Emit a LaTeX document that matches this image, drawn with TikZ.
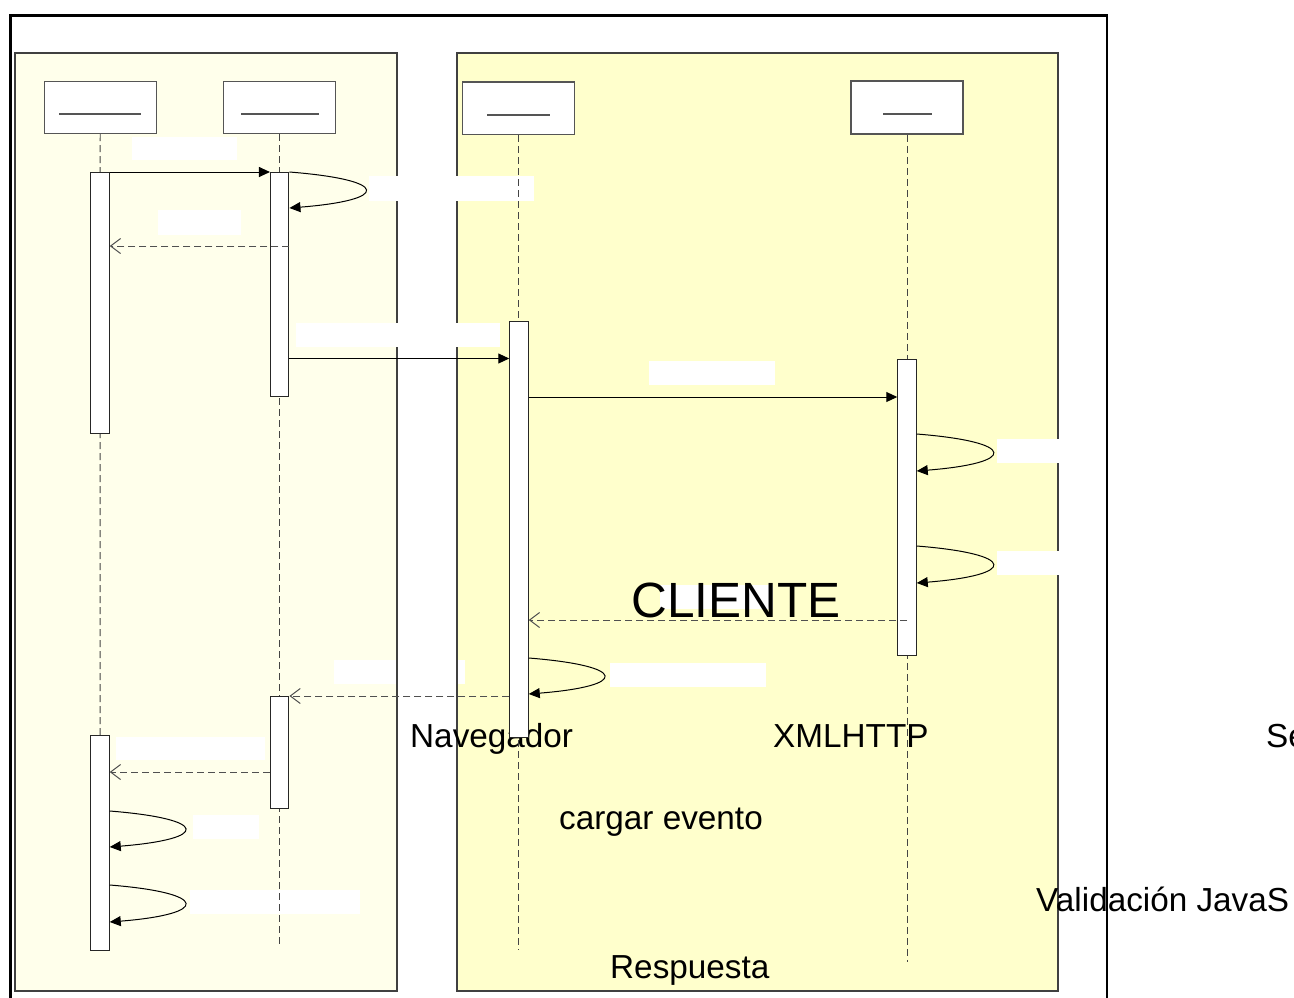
\documentclass[tikz,border=0pt]{standalone}
\usepackage{fontspec}
\setmainfont{Liberation Sans}
\usetikzlibrary{arrows.meta}
\definecolor{leftfill}{HTML}{FFFFEB}
\definecolor{rightfill}{HTML}{FFFFCC}
\definecolor{panelgray}{HTML}{404040}
\definecolor{boxgray}{HTML}{555555}
\definecolor{lifegray}{HTML}{444444}
\definecolor{retgray}{HTML}{505050}
\tikzset{
  lbox/.style={draw=boxgray, line width=1.3pt, fill=white, minimum width=112pt, minimum height=52pt, inner sep=0pt},
  actbar/.style={draw=black!85, line width=1pt, fill=white, minimum width=18.5pt, inner sep=0pt},
  lbl/.style={fill=white, inner sep=0pt, outer sep=0pt},
  life/.style={draw=lifegray, line width=0.9pt, dash pattern=on 7pt off 4pt},
  msg/.style={line width=1pt, -{Triangle[length=11pt,width=10pt]}},
  ret/.style={draw=retgray, line width=1pt, dash pattern=on 7pt off 4pt, -{Straight Barb[length=10pt,width=15pt]}},
  txt/.style={font=\fontsize{33.3}{36}\selectfont, anchor=base west, inner sep=0pt},
  panel/.style={draw=panelgray, line width=2pt},
  uline/.style={draw=boxgray, line width=1.3pt}
}
\begin{document}
\begin{tikzpicture}[x=1pt,y=-1pt]
\useasboundingbox (0,0) rectangle (1294,997);
\clip (0,0) rectangle (1294,997);
\fill[white] (0,0) rectangle (1294,997);
% panels fill
\fill[leftfill] (15,53) rectangle (397,991);
\fill[rightfill] (457,53) rectangle (1058,991);
% label under borders
\node[lbl, minimum width=131pt, minimum height=24pt] (l10) at (399.5,672) {};
% panel borders
\draw[panel] (15,53) rectangle (397,991);
\draw[panel] (457,53) rectangle (1058,991);
% label rectangles
\node[lbl, minimum width=105pt, minimum height=23pt] (l1) at (184.5,148.5) {};
\node[lbl, minimum width=165pt, minimum height=25pt] (l2) at (451.5,188.5) {};
\node[lbl, minimum width=83pt, minimum height=25pt] (l3) at (199.5,222.5) {};
\node[lbl, minimum width=204pt, minimum height=24pt] (l4) at (398,335) {};
\node[lbl, minimum width=126pt, minimum height=24pt] (l5) at (712,373) {};
\node[lbl, minimum width=62pt, minimum height=24pt] (l6) at (1028,451) {};
\node[lbl, minimum width=62pt, minimum height=24pt] (l7) at (1028,563) {};
\node[lbl, minimum width=113pt, minimum height=24pt] (l8) at (716.5,597) {};
\node[lbl, minimum width=156pt, minimum height=24pt] (l9) at (688,675) {};
\node[lbl, minimum width=149pt, minimum height=23pt] (l11) at (190.5,748.5) {};
\node[lbl, minimum width=66pt, minimum height=24pt] (l12) at (226,827) {};
\node[lbl, minimum width=170pt, minimum height=24pt] (l13) at (275,902) {};
% texts
\node[font=\fontsize{49.5}{52}\selectfont, anchor=base, inner sep=0pt] (tcli) at (736,617) {CLIENTE};
\node[txt] (tnav) at (410,747) {Navegador};
\node[txt] (txml) at (773,747) {XMLHTTP};
\node[txt] (tse) at (1266,747) {Se};
\node[txt] (tcar) at (559,829) {cargar evento};
\node[txt] (tval) at (1036,911) {Validación JavaS};
\node[txt] (tres) at (610,978) {Respuesta};
% outer frame
\draw[line width=2.5pt] (10.7,15.3) rectangle (1107,1030);
% lifeline heads
\node[lbox] (b1) at (100.2,107.5) {};
\node[lbox] (b2) at (279.5,107.5) {};
\node[lbox, minimum height=52.5pt] (b3) at (518.5,108.3) {};
\node[lbox, minimum height=53pt] (b4) at (907,107.6) {};
\draw[uline] (59,114) -- (141,114);
\draw[uline] (241,114) -- (319,114);
\draw[uline] (487,115) -- (550,115);
\draw[uline] (883,114) -- (932,114);
% lifelines
\coordinate (e1) at (100,950);
\coordinate (e2) at (279.5,944);
\coordinate (e3) at (518.5,950);
\coordinate (e4) at (907,962);
\draw[life] (b1.south) -- (e1);
\draw[life] (b2.south) -- (e2);
\draw[life] (b3.south) -- (e3);
\draw[life] (b4.south) -- (e4);
% activation bars
\node[actbar, minimum height=261pt] (a1) at (100,302.5) {};
\node[actbar, minimum height=224pt] (a2) at (279.7,284) {};
\node[actbar, minimum height=416pt] (a3) at (519,529.5) {};
\node[actbar, minimum height=296pt] (a4) at (907,507.5) {};
\node[actbar, minimum height=112pt] (a5) at (279.7,752) {};
\node[actbar, minimum height=215pt] (a6) at (100,842.5) {};
% messages
\draw[msg] (a1.east |- 0,172) -- (a2.west |- 0,172);
\draw[msg] (a2.east |- 0,172) .. controls +(101,8) and +(101,-8) .. (a2.east |- 0,208);
\draw[ret] (a2.east |- 0,246) -- (a1.east |- 0,246);
\draw[msg] (a2.east |- 0,358.5) -- (a3.west |- 0,358.5);
\draw[msg] (a3.east |- 0,397) -- (a4.west |- 0,397);
\draw[msg] (a4.east |- 0,434) .. controls +(101,8) and +(101,-8) .. (a4.east |- 0,471);
\draw[msg] (a4.east |- 0,546) .. controls +(101,8) and +(101,-8) .. (a4.east |- 0,583);
\draw[ret] (a4.center |- 0,620) -- (a3.east |- 0,620);
\draw[msg] (a3.east |- 0,658) .. controls +(100,8) and +(100,-8) .. (a3.east |- 0,694);
\draw[ret] (a3.west |- 0,696) -- (a5.east |- 0,696);
\draw[ret] (a5.west |- 0,772) -- (a6.east |- 0,772);
\draw[msg] (a6.east |- 0,811) .. controls +(100,8) and +(100,-8) .. (a6.east |- 0,847);
\draw[msg] (a6.east |- 0,885) .. controls +(100,8) and +(100,-8) .. (a6.east |- 0,922);
\end{tikzpicture}
\end{document}
